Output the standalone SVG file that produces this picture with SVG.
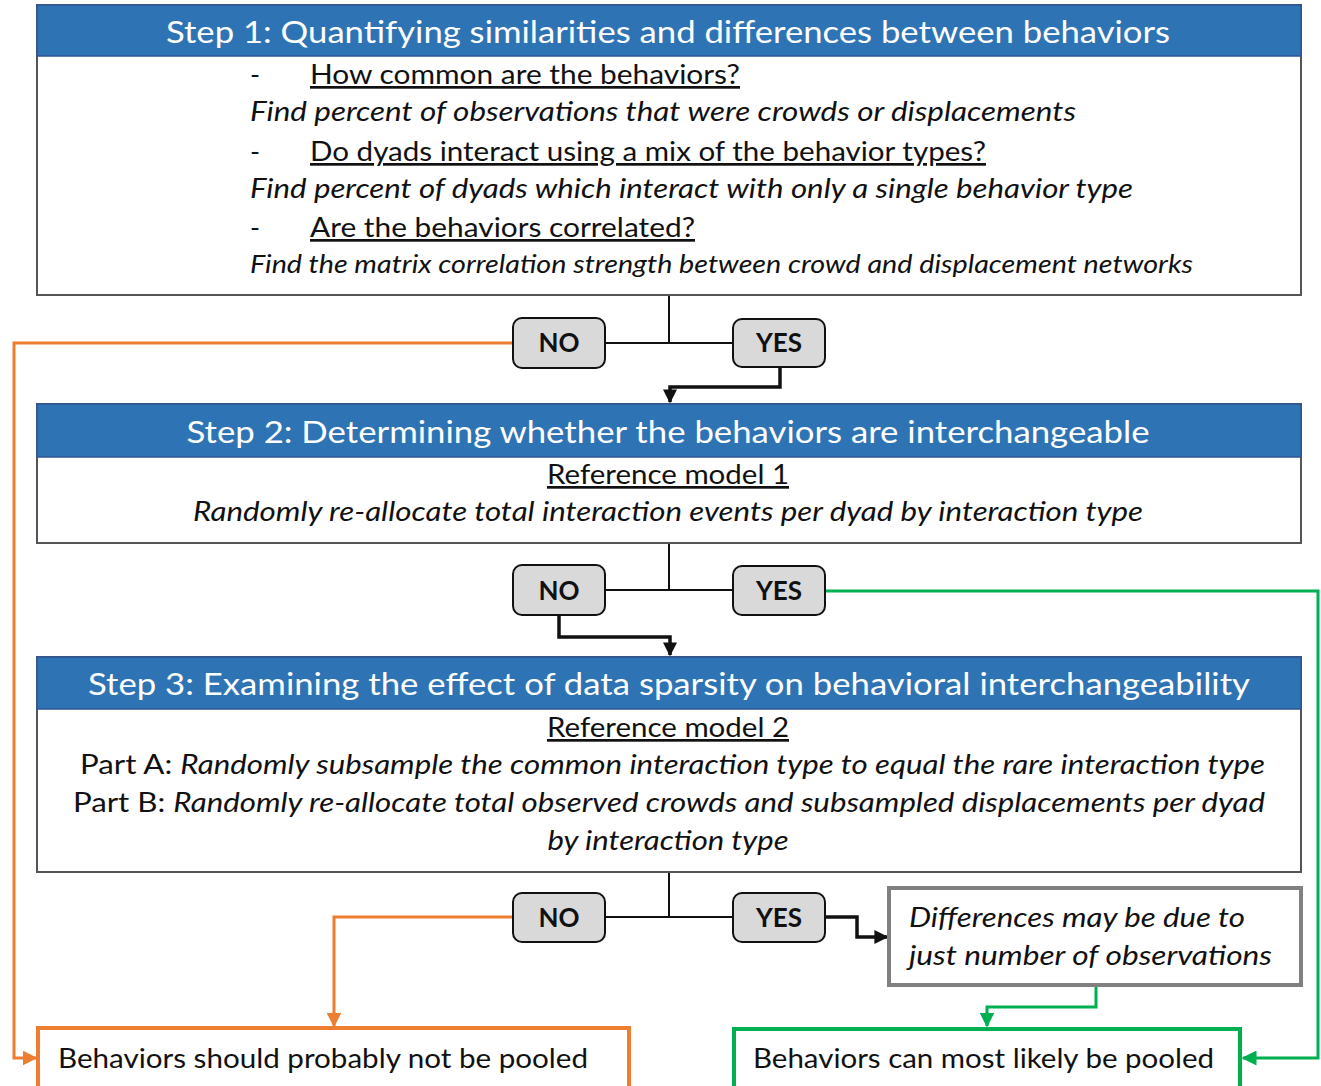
<svg xmlns="http://www.w3.org/2000/svg" width="1321" height="1086" viewBox="0 0 1321 1086">
<style>
  text { font-family: Lato, "Liberation Sans", sans-serif; fill: #111; }
  .hdr { fill: #2E74B5; stroke: #2F5597; stroke-width: 1.5; }
  .box { fill: #fff; stroke: #555; stroke-width: 2; }
  .htxt { fill: #fff; font-size: 31px; text-anchor: middle; }
  .body { font-size: 27px; }
  .it { font-style: italic; }
  .ul { text-decoration: underline; }
  .mid { text-anchor: middle; }
  .btn { fill: #D9D9D9; stroke: #111; stroke-width: 2; }
  .btxt { font-size: 26px; font-weight: bold; text-anchor: middle; }
  .blk { fill: none; stroke: #111; stroke-width: 2; }
  .blkT { fill: none; stroke: #111; stroke-width: 3.5; }
  .org { fill: none; stroke: #ED7D31; stroke-width: 3; }
  .grn { fill: none; stroke: #00B050; stroke-width: 3; }
</style>
<defs>
  <marker id="aBlk" viewBox="0 0 10 10" refX="9" refY="5" markerWidth="4" markerHeight="4" orient="auto" markerUnits="strokeWidth">
    <path d="M0,0 L10,5 L0,10 z" fill="#111"/>
  </marker>
  <marker id="aOrg" viewBox="0 0 10 10" refX="9" refY="5" markerWidth="5" markerHeight="5" orient="auto" markerUnits="strokeWidth">
    <path d="M0,0 L10,5 L0,10 z" fill="#ED7D31"/>
  </marker>
  <marker id="aGrn" viewBox="0 0 10 10" refX="9" refY="5" markerWidth="5" markerHeight="5" orient="auto" markerUnits="strokeWidth">
    <path d="M0,0 L10,5 L0,10 z" fill="#00B050"/>
  </marker>
</defs>
<rect width="1321" height="1086" fill="#fff"/>

<g id="connectors">
  <!-- step1 branch -->
  <path class="blk" d="M669,295 V343"/>
  <path class="blk" d="M605,343 H733"/>
  <path class="blkT" d="M780,367 V387 H670 V402" marker-end="url(#aBlk)"/>
  <path class="org" d="M513,343 H14 V1058 H36" marker-end="url(#aOrg)"/>
  <!-- step2 branch -->
  <path class="blk" d="M669,543 V590"/>
  <path class="blk" d="M605,590 H733"/>
  <path class="blkT" d="M559,615 V637 H670 V655" marker-end="url(#aBlk)"/>
  <path class="grn" d="M825,591 H1318 V1058 H1243" marker-end="url(#aGrn)"/>
  <!-- step3 branch -->
  <path class="blk" d="M669,872 V917"/>
  <path class="blk" d="M605,917 H733"/>
  <path class="org" d="M513,917 H334 V1026" marker-end="url(#aOrg)"/>
  <path class="blkT" d="M825,917 H857 V937 H887" marker-end="url(#aBlk)"/>
  <path class="grn" d="M1096,986 V1007 H987 V1026" marker-end="url(#aGrn)"/>
</g>

<g id="step1">
  <rect class="box" x="37" y="5" width="1264" height="290"/>
  <rect class="hdr" x="37" y="5" width="1264" height="51"/>
  <text class="htxt" x="668" y="43" textLength="1004" lengthAdjust="spacingAndGlyphs">Step 1: Quantifying similarities and differences between behaviors</text>
  <text class="body" x="250" y="84">-</text>
  <text class="body ul" x="310" y="84" textLength="430" lengthAdjust="spacingAndGlyphs">How common are the behaviors?</text>
  <text class="body it" x="250" y="121" textLength="826" lengthAdjust="spacingAndGlyphs">Find percent of observations that were crowds or displacements</text>
  <text class="body" x="250" y="161">-</text>
  <text class="body ul" x="310" y="161" textLength="676" lengthAdjust="spacingAndGlyphs">Do dyads interact using a mix of the behavior types?</text>
  <text class="body it" x="250" y="198" textLength="883" lengthAdjust="spacingAndGlyphs">Find percent of dyads which interact with only a single behavior type</text>
  <text class="body" x="250" y="237">-</text>
  <text class="body ul" x="310" y="237" textLength="385" lengthAdjust="spacingAndGlyphs">Are the behaviors correlated?</text>
  <text class="it" font-size="25" x="250" y="273" textLength="943" lengthAdjust="spacingAndGlyphs">Find the matrix correlation strength between crowd and displacement networks</text>
</g>

<g id="no1"><rect class="btn" x="513" y="318" width="92" height="50" rx="9"/><text class="btxt" x="559" y="352">NO</text></g>
<g id="yes1"><rect class="btn" x="733" y="319" width="92" height="48" rx="9"/><text class="btxt" x="779" y="352">YES</text></g>

<g id="step2">
  <rect class="box" x="37" y="404" width="1264" height="139"/>
  <rect class="hdr" x="37" y="404" width="1264" height="53"/>
  <text class="htxt" x="668" y="443" textLength="963" lengthAdjust="spacingAndGlyphs">Step 2: Determining whether the behaviors are interchangeable</text>
  <text class="body ul mid" x="668" y="484" textLength="242" lengthAdjust="spacingAndGlyphs">Reference model 1</text>
  <text class="body it mid" x="668" y="521" textLength="950" lengthAdjust="spacingAndGlyphs">Randomly re-allocate total interaction events per dyad by interaction type</text>
</g>

<g id="no2"><rect class="btn" x="513" y="565" width="92" height="50" rx="9"/><text class="btxt" x="559" y="600">NO</text></g>
<g id="yes2"><rect class="btn" x="733" y="566" width="92" height="49" rx="9"/><text class="btxt" x="779" y="600">YES</text></g>

<g id="step3">
  <rect class="box" x="37" y="657" width="1264" height="215"/>
  <rect class="hdr" x="37" y="657" width="1264" height="52"/>
  <text class="htxt" x="669" y="695" textLength="1162" lengthAdjust="spacingAndGlyphs">Step 3: Examining the effect of data sparsity on behavioral interchangeability</text>
  <text class="body ul mid" x="668" y="737" textLength="242" lengthAdjust="spacingAndGlyphs">Reference model 2</text>
  <text class="body" x="80" y="774" textLength="1185" lengthAdjust="spacingAndGlyphs">Part A: <tspan class="it">Randomly subsample the common interaction type to equal the rare interaction type</tspan></text>
  <text class="body" x="73" y="812" textLength="1192" lengthAdjust="spacingAndGlyphs">Part B: <tspan class="it">Randomly re-allocate total observed crowds and subsampled displacements per dyad</tspan></text>
  <text class="body it mid" x="668" y="850" textLength="241" lengthAdjust="spacingAndGlyphs">by interaction type</text>
</g>

<g id="no3"><rect class="btn" x="513" y="893" width="92" height="49" rx="9"/><text class="btxt" x="559" y="927">NO</text></g>
<g id="yes3"><rect class="btn" x="733" y="893" width="92" height="49" rx="9"/><text class="btxt" x="779" y="927">YES</text></g>

<g id="note">
  <rect x="889" y="888" width="412" height="97" fill="#fff" stroke="#808080" stroke-width="4"/>
  <text class="body it" x="909" y="927" textLength="336" lengthAdjust="spacingAndGlyphs">Differences may be due to</text>
  <text class="body it" x="909" y="965" textLength="363" lengthAdjust="spacingAndGlyphs">just number of observations</text>
</g>

<g id="notPooled">
  <rect x="38" y="1028" width="591" height="70" fill="#fff" stroke="#ED7D31" stroke-width="4"/>
  <text class="body" x="58" y="1068" textLength="530" lengthAdjust="spacingAndGlyphs">Behaviors should probably not be pooled</text>
</g>

<g id="pooled">
  <rect x="734" y="1029" width="506" height="70" fill="#fff" stroke="#00B050" stroke-width="4"/>
  <text class="body" x="753" y="1068" textLength="461" lengthAdjust="spacingAndGlyphs">Behaviors can most likely be pooled</text>
</g>
</svg>
